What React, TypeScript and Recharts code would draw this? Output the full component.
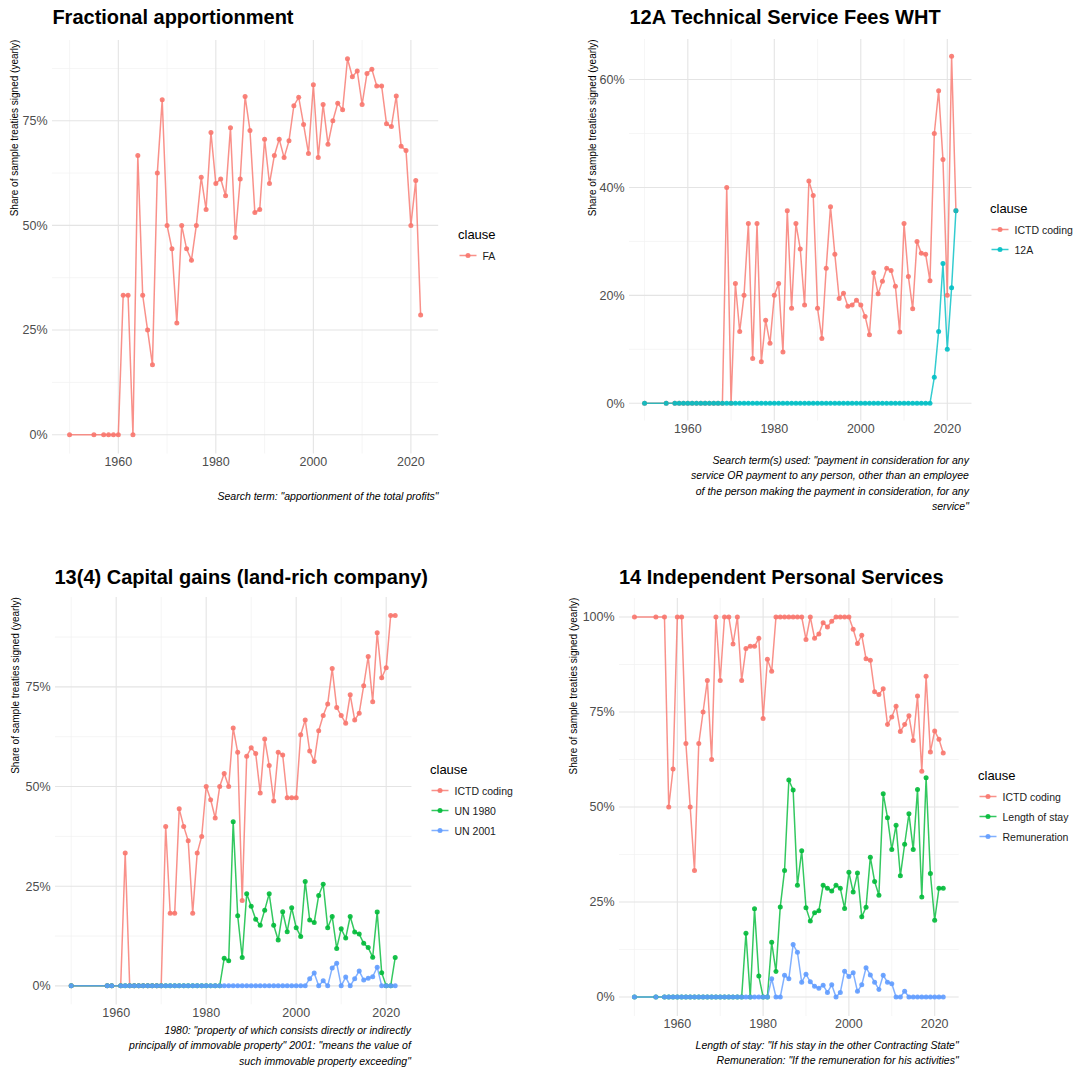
import React from 'react';
import { LineChart, Line, XAxis, YAxis, CartesianGrid } from 'recharts';

const FONT = '"Liberation Sans", Arial, Helvetica, sans-serif';
const RED = '#F8766D';
const TEAL = '#00BFC4';
const GREEN = '#00BA38';
const BLUE = '#619CFF';

// ---- categories ----
const yearsA = [1950, 1955, 1957, 1958, 1959,
  1960, 1961, 1962, 1963, 1964, 1965, 1966, 1967, 1968, 1969,
  1970, 1971, 1972, 1973, 1974, 1975, 1976, 1977, 1978, 1979,
  1980, 1981, 1982, 1983, 1984, 1985, 1986, 1987, 1988, 1989,
  1990, 1991, 1992, 1993, 1994, 1995, 1996, 1997, 1998, 1999,
  2000, 2001, 2002, 2003, 2004, 2005, 2006, 2007, 2008, 2009,
  2010, 2011, 2012, 2013, 2014, 2015, 2016, 2017, 2018, 2019,
  2020, 2021, 2022];
const yearsC = [1950, 1958, 1959,
  1961, 1962, 1963, 1964, 1965, 1966, 1967, 1968, 1969,
  1970, 1971, 1972, 1973, 1974, 1975, 1976, 1977, 1978, 1979,
  1980, 1981, 1982, 1983, 1984, 1985, 1986, 1987, 1988, 1989,
  1990, 1991, 1992, 1993, 1994, 1995, 1996, 1997, 1998, 1999,
  2000, 2001, 2002, 2003, 2004, 2005, 2006, 2007, 2008, 2009,
  2010, 2011, 2012, 2013, 2014, 2015, 2016, 2017, 2018, 2019,
  2020, 2021, 2022];

// ---- panel 1: Fractional apportionment (percent) ----
const faShare = [0, 0, 0, 0, 0,
  0, 33.3, 33.3, 0, 66.7, 33.3, 25, 16.7, 62.5, 80,
  50, 44.4, 26.7, 50, 44.4, 41.7, 50, 61.5, 53.8, 72.2,
  60, 61.1, 57.1, 73.3, 47.1, 61.1, 80.8, 72.7, 53.1, 53.8,
  70.6, 60, 66.7, 70.6, 66.2, 70.2, 78.6, 80.6, 74.1, 67.2,
  83.6, 66.2, 78.9, 69.4, 75, 79.2, 77.6, 89.8, 85.5, 86.9,
  78.9, 86.3, 87.3, 83.3, 83.3, 74.3, 73.6, 80.9, 68.9, 67.9,
  50, 60.7, 28.6];

// ---- panel 2: 12A Technical Service Fees WHT ----
const ictd12A = [0, 0, 0, 0, 0,
  0, 0, 0, 0, 0, 0, 0, 0, 0, 40,
  0, 22.2, 13.3, 20, 33.3, 8.3, 33.3, 7.7, 15.4, 11.1,
  20, 22.2, 9.5, 35.7, 17.6, 33.3, 28.6, 18.2, 41.2, 38.5,
  17.6, 12, 25, 36.4, 27.6, 19.4, 20.4, 18, 18.2, 19.1,
  18.2, 16.1, 12.7, 24.2, 20.3, 22.6, 25, 24.6, 21.7, 13.2,
  33.3, 23.5, 17.5, 30, 27.8, 27.6, 22.7, 50, 57.9, 45.2,
  20, 64.3, 35.7];
const twelveA = [0, 0, 0, 0, 0,
  0, 0, 0, 0, 0, 0, 0, 0, 0, 0,
  0, 0, 0, 0, 0, 0, 0, 0, 0, 0,
  0, 0, 0, 0, 0, 0, 0, 0, 0, 0,
  0, 0, 0, 0, 0, 0, 0, 0, 0, 0,
  0, 0, 0, 0, 0, 0, 0, 0, 0, 0,
  0, 0, 0, 0, 0, 0, 0, 4.8, 13.3, 25.9,
  10, 21.4, 35.7];

// ---- panel 3: 13(4) Capital gains ----
const ictd13 = [0, 0, 0,
  0, 33.3, 0, 0, 0, 0, 0, 0, 0,
  0, 40, 18.2, 18.2, 44.4, 40, 36.4, 18.2, 33.3, 37.5,
  50, 46.7, 42.1, 50, 53.3, 50, 64.7, 58.6, 21.4, 57.6,
  59.7, 58.3, 48.4, 61.9, 55.3, 46.4, 58.6, 57.9, 47.2, 47.2,
  47.2, 63, 66.7, 58.9, 56.3, 64, 67.8, 70.7, 79.6, 69.8,
  67.8, 65.9, 73, 66.7, 68.4, 75.3, 82.6, 71.3, 88.6, 77.3,
  79.8, 92.9, 92.9];
const un1980 = [0, 0, 0,
  0, 0, 0, 0, 0, 0, 0, 0, 0,
  0, 0, 0, 0, 0, 0, 0, 0, 0, 0,
  0, 0, 0, 0, 6.9, 6.3, 41.2, 17.6, 7.1, 23.1,
  20, 16.7, 15.2, 19, 23.1, 15.2, 11.5, 18.6, 13.6, 19.6,
  14.6, 12.4, 26.2, 16.5, 15.9, 22.7, 25.5, 14.6, 17.4, 9.4,
  14.3, 12, 17.4, 13.5, 13, 10.7, 9.6, 7.2, 18.5, 3.3,
  0, 0, 7.1];
const un2001 = [0, 0, 0,
  0, 0, 0, 0, 0, 0, 0, 0, 0,
  0, 0, 0, 0, 0, 0, 0, 0, 0, 0,
  0, 0, 0, 0, 0, 0, 0, 0, 0, 0,
  0, 0, 0, 0, 0, 0, 0, 0, 0, 0,
  0, 0, 0, 1.8, 3.2, 0, 1.3, 0, 4.5, 5.7,
  0, 2.2, 0, 1.8, 3.7, 1.5, 1.9, 2.3, 4.7, 0,
  0, 0, 0];

// ---- panel 4: 14 Independent Personal Services ----
const ictd14 = [100, 100, 100, 50, 60,
  100, 100, 66.7, 50, 33.3, 66.7, 75, 83.3, 62.5, 100,
  83.3, 100, 100, 92.9, 100, 83.3, 91.7, 92.3, 92.3, 94.4,
  73.3, 88.9, 85.7, 100, 100, 100, 100, 100, 100, 100,
  94.1, 100, 94.4, 95.5, 98.5, 97.4, 98.9, 100, 100, 100,
  100, 96.8, 93, 95.2, 89, 88.6, 80.3, 79.6, 81.1, 71.7,
  73.7, 76.5, 69.9, 71.7, 74, 67.5, 79.2, 59.4, 84.4, 64.5,
  70, 67.8, 64.2];
const lengthStay = [0, 0, 0, 0, 0,
  0, 0, 0, 0, 0, 0, 0, 0, 0, 0,
  0, 0, 0, 0, 0, 0, 16.8, 0, 23.2, 5.5,
  0, 0, 14.4, 6.7, 23.7, 33.3, 57.1, 54.5, 29.4, 38.5,
  23.5, 20, 22.2, 22.7, 29.4, 28.6, 27.9, 29.4, 28.6, 23.3,
  32.8, 27.6, 32.6, 21.1, 23.6, 36.8, 30.4, 26.8, 53.5, 47.2,
  38.8, 45.2, 31.9, 40.2, 48.2, 38.8, 54.6, 26.3, 57.7, 32.5,
  20.2, 28.6, 28.6];
const remuneration = [0, 0, 0, 0, 0,
  0, 0, 0, 0, 0, 0, 0, 0, 0, 0,
  0, 0, 0, 0, 0, 0, 0, 0, 0, 0,
  0, 0, 4.8, 0, 0, 5.7, 4.8, 13.8, 11.8, 3.9,
  6, 4, 2.8, 2.3, 3.1, 1.2, 3.2, 0, 1.2, 6.8,
  5.4, 6.4, 1.5, 3.2, 7.7, 5.8, 3.9, 2, 5.7, 3.9,
  3.5, 0, 0, 1.5, 0, 0, 0, 0, 0, 0,
  0, 0, 0];

// ---- ticks ----
const xTicks = [1960, 1980, 2000, 2020];
const xMinor = [1950, 1970, 1990, 2010];
const yTicksQ = [0, 25, 50, 75];
const yTicksQ100 = [0, 25, 50, 75, 100];
const yMinorQ = [12.5, 37.5, 62.5, 87.5];
const yTicks20 = [0, 20, 40, 60];
const yMinor20 = [10, 30, 50];

type Series = { key: string; name: string; color: string; values: number[] };

function buildRows(years: number[], series: Series[]) {
  return years.map((year, i) => {
    const row: Record<string, number> = { year };
    series.forEach((s) => { row[s.key] = s.values[i]; });
    return row;
  });
}

type Rect = { x0: number; y0: number; x1: number; y1: number };

function Panel(props: {
  rect: Rect; years: number[]; series: Series[];
  yDomain: [number, number]; yTicks: number[]; yMinor: number[];
}) {
  const { rect, years, series, yDomain, yTicks, yMinor } = props;
  const YW = 50, XH = 30, PAD = 6;
  const left = rect.x0 - YW;
  const top = rect.y0 - PAD;
  const width = rect.x1 - rect.x0 + YW + PAD;
  const height = rect.y1 - rect.y0 + PAD + XH;
  const data = buildRows(years, series);
  const tickStyle = { fill: '#4D4D4D', fontSize: 12.5, fontFamily: FONT };
  return (
    <div style={{ position: 'absolute', left, top, width, height }}>
      <LineChart width={width} height={height} data={data}
        margin={{ top: PAD, right: PAD, left: 0, bottom: 0 }}>
        <CartesianGrid horizontalValues={yMinor} verticalValues={xMinor}
          stroke="#F0F0F0" strokeWidth={0.7} />
        <CartesianGrid horizontalValues={yTicks} verticalValues={xTicks}
          stroke="#E4E4E4" strokeWidth={1.1} />
        <XAxis type="number" dataKey="year" domain={[1946.4, 2025.6]} ticks={xTicks}
          allowDataOverflow axisLine={false} tickLine={false} tickSize={0} tickMargin={3.5}
          height={XH} interval={0} tick={tickStyle} />
        <YAxis type="number" domain={yDomain} ticks={yTicks} allowDataOverflow
          axisLine={false} tickLine={false} tickSize={0} tickMargin={4.4}
          width={YW} interval={0} tick={tickStyle}
          tickFormatter={(v: number) => `${v}%`} />
        {series.map((s) => (
          <Line key={'l-' + s.key} type="linear" dataKey={s.key} stroke={s.color}
            strokeWidth={1.5} strokeOpacity={0.8} dot={false} activeDot={false}
            isAnimationActive={false} />
        ))}
        {series.map((s) => (
          <Line key={'p-' + s.key} type="linear" dataKey={s.key} stroke="none"
            dot={{ r: 2.5, fill: s.color, stroke: 'none', fillOpacity: 0.9 }}
            activeDot={false} isAnimationActive={false} />
        ))}
      </LineChart>
    </div>
  );
}

function LegendBlock(props: { x: number; y: number; series: Series[] }) {
  const { x, y, series } = props;
  return (
    <g fontFamily={FONT}>
      <text x={x} y={y} fontSize={13} fill="#000" dominantBaseline="central">clause</text>
      {series.map((s, i) => {
        const cy = y + 21.5 + i * 20;
        const kx = x + 1.5;
        return (
          <g key={s.key}>
            <line x1={kx} x2={kx + 17} y1={cy} y2={cy} stroke={s.color}
              strokeWidth={1.5} strokeOpacity={0.8} />
            <circle cx={kx + 8.5} cy={cy} r={2.5} fill={s.color} fillOpacity={0.9} />
            <text x={kx + 23} y={cy} fontSize={10.5} fill="#1A1A1A"
              dominantBaseline="central">{s.name}</text>
          </g>
        );
      })}
    </g>
  );
}

function Caption(props: { x: number; y: number; lines: string[] }) {
  const { x, y, lines } = props;
  return (
    <g fontFamily={FONT} fontStyle="italic" fontSize={10.5} fill="#000">
      {lines.map((l, i) => (
        <text key={i} x={x} y={y + i * 15.4} textAnchor="end">{l}</text>
      ))}
    </g>
  );
}

function YLabel(props: { cx: number; top: number }) {
  const { cx, top } = props;
  return (
    <text transform={`translate(${cx},${top}) rotate(-90)`} textAnchor="end"
      dominantBaseline="central" fontFamily={FONT} fontSize={10} fill="#000">
      Share of sample treaties signed (yearly)
    </text>
  );
}

function Title(props: { x: number; y: number; text: string }) {
  return (
    <text x={props.x} y={props.y} fontFamily={FONT} fontWeight="bold" fontSize={20}
      fill="#000">{props.text}</text>
  );
}

const s1: Series[] = [{ key: 'fa', name: 'FA', color: RED, values: faShare }];
const s2: Series[] = [
  { key: 'ictd', name: 'ICTD coding', color: RED, values: ictd12A },
  { key: 'a12', name: '12A', color: TEAL, values: twelveA },
];
const s3: Series[] = [
  { key: 'ictd', name: 'ICTD coding', color: RED, values: ictd13 },
  { key: 'u80', name: 'UN 1980', color: GREEN, values: un1980 },
  { key: 'u01', name: 'UN 2001', color: BLUE, values: un2001 },
];
const s4: Series[] = [
  { key: 'ictd', name: 'ICTD coding', color: RED, values: ictd14 },
  { key: 'len', name: 'Length of stay', color: GREEN, values: lengthStay },
  { key: 'rem', name: 'Remuneration', color: BLUE, values: remuneration },
];

const r1: Rect = { x0: 52.4, y0: 39.6, x1: 438.6, y1: 453.1 };
const r2: Rect = { x0: 629.4, y0: 39.4, x1: 971.9, y1: 421.0 };
const r3: Rect = { x0: 54.5, y0: 597.1, x1: 410.9, y1: 1004.5 };
const r4: Rect = { x0: 619.0, y0: 597.7, x1: 958.7, y1: 1015.7 };

export default function App() {
  return (
    <div style={{ position: 'absolute', left: 0, top: 0, width: 1075, height: 1078, background: '#fff', overflow: 'hidden' }}>
      <Panel rect={r1} years={yearsA} series={s1} yDomain={[-4.49, 94.29]} yTicks={yTicksQ} yMinor={yMinorQ} />
      <Panel rect={r2} years={yearsA} series={s2} yDomain={[-3.215, 67.515]} yTicks={yTicks20} yMinor={yMinor20} />
      <Panel rect={r3} years={yearsC} series={s3} yDomain={[-4.645, 97.545]} yTicks={yTicksQ} yMinor={yMinorQ} />
      <Panel rect={r4} years={yearsA} series={s4} yDomain={[-5, 105]} yTicks={yTicksQ100} yMinor={yMinorQ} />
      <svg width={1075} height={1078} style={{ position: 'absolute', left: 0, top: 0, pointerEvents: 'none' }}>
        <Title x={52.4} y={24} text="Fractional apportionment" />
        <Title x={629.4} y={24} text="12A Technical Service Fees WHT" />
        <Title x={54.5} y={584} text="13(4) Capital gains (land-rich company)" />
        <Title x={619} y={584} text="14 Independent Personal Services" />
        <YLabel cx={14} top={r1.y0} />
        <YLabel cx={592} top={r2.y0} />
        <YLabel cx={15} top={r3.y0} />
        <YLabel cx={573} top={r4.y0} />
        <LegendBlock x={458} y={234} series={s1} />
        <LegendBlock x={990} y={208} series={s2} />
        <LegendBlock x={430} y={769} series={s3} />
        <LegendBlock x={978} y={775} series={s4} />
        <Caption x={r1.x1} y={500} lines={['Search term: "apportionment of the total profits"']} />
        <Caption x={r2.x1 - 3} y={464} lines={[
          'Search term(s) used: "payment in consideration for any',
          'service OR payment to any person, other than an employee',
          'of the person making the payment in consideration, for any',
          'service"',
        ]} />
        <Caption x={r3.x1} y={1034} lines={[
          '1980: "property of which consists directly or indirectly',
          'principally of immovable property" 2001: "means the value of',
          'such immovable property exceeding"',
        ]} />
        <Caption x={r4.x1} y={1049} lines={[
          'Length of stay: "If his stay in the other Contracting State"',
          'Remuneration: "If the remuneration for his activities"',
        ]} />
      </svg>
    </div>
  );
}
